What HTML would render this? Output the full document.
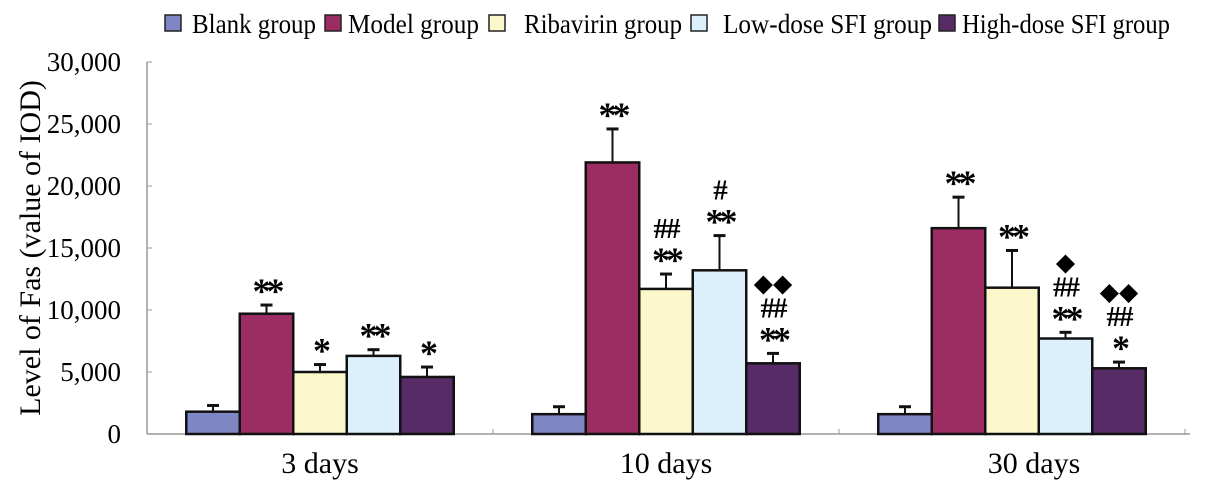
<!DOCTYPE html>
<html><head><meta charset="utf-8"><style>
body{margin:0;background:#fff;}
svg{display:block;font-family:"Liberation Serif",serif;}
</style></head><body>
<svg id="chart" width="1205" height="488"></svg>
<script>
const categories=["3 days","10 days","30 days"];
const groups=["Blank group","Model group","Ribavirin group","Low-dose SFI group","High-dose SFI group"];
const blankVals=[1800,1600,1600];
const modelVals=[9700,21900,16600];
const ribaVals=[5000,11700,11800];
const lowVals=[6300,13200,7700];
const highVals=[4600,5700,5300];
const blankErr=[500,600,600];
const modelErr=[700,2700,2500];
const ribaErr=[600,1200,3000];
const lowErr=[500,2800,500];
const highErr=[800,800,500];
const yTicks=[0,5000,10000,15000,20000,25000,30000];
const annots=[
 [[],["**"],["*"],["**"],["*"]],
 [[],["**"],["##","**"],["#","**"],["◆◆","##","**"]],
 [[],["**"],["**"],["◆","##","**"],["◆◆","##","*"]]
];
const colors=["#7f86c4","#9b2d62","#fdf7cc","#dcf0fb","#572b66"];
const series=[blankVals,modelVals,ribaVals,lowVals,highVals];
const errs=[blankErr,modelErr,ribaErr,lowErr,highErr];
const svg=document.getElementById('chart');
const NS="http://www.w3.org/2000/svg";
function mk(t,a,p){const e=document.createElementNS(NS,t);for(const k in a)e.setAttribute(k,a[k]);(p||svg).appendChild(e);return e;}
const x0=147,x1=1185,y0=434,yTop=62,yMax=30000;
function y(v){return y0-(v/yMax)*(y0-yTop);}
const catW=(x1-x0)/categories.length, barW=53.5;
function bx(c,s){return x0+catW*c+catW/2-barW*2.5+barW*s;}
const ya=mk('line',{x1:x0,y1:yTop,x2:x0,y2:y0,stroke:'#999','stroke-width':1.5});

const xa=mk('line',{x1:x0,y1:y0,x2:x1+5,y2:y0,stroke:'#999','stroke-width':1.5});

yTicks.forEach(v=>{
 mk('line',{x1:x0,y1:y(v),x2:x0+5,y2:y(v),stroke:'#999'});
 const t=mk('text',{x:121,y:y(v)+9,'text-anchor':'end','font-size':27});
 t.textContent=v.toLocaleString('en-US');
 
 
});
for(let c=0;c<=categories.length;c++){mk('line',{x1:x0+catW*c,y1:y0,x2:x0+catW*c,y2:y0-5,stroke:'#999'});}
const yt=mk('text',{x:0,y:0,transform:'translate(40,248) rotate(-90)','text-anchor':'middle','font-size':30});
yt.textContent="Level of Fas (value of IOD)";


categories.forEach((c,i)=>{
 const t=mk('text',{x:x0+catW*i+catW/2+(i==2?22:0),y:473,'text-anchor':'middle','font-size':30});
 t.textContent=c;
 
 
 series.forEach((s,j)=>{
  const xx=bx(i,j),top=y(s[i]),et=y(s[i]+errs[j][i]),cx=xx+barW/2;
  mk('line',{x1:cx,y1:top,x2:cx,y2:et,stroke:'#111','stroke-width':2});
  mk('line',{x1:cx-6,y1:et,x2:cx+6,y2:et,stroke:'#111','stroke-width':3});
  const r=mk('rect',{x:xx,y:top,width:barW,height:y0-top,fill:colors[j],stroke:'#111','stroke-width':2.5});
  
  
  const a=annots[i][j];
  a.forEach((txt,k)=>{
   const cy=et-21-(a.length-1-k)*25;
   const isStar=txt.includes('*');
   const isDia=txt.includes('◆');
   const attrs={x:cx,y:cy+(isStar?19:(isDia?9:10)),'text-anchor':'middle','font-size':isStar?36:(isDia?25:29),'font-family':isDia?'DejaVu Sans':'Liberation Serif'};
   if(isStar){attrs['font-weight']='bold';attrs['letter-spacing']='-4';}
   if(txt.includes('#')){attrs['font-weight']='bold';attrs['letter-spacing']='-2';}
   const at=mk('text',attrs);
   at.textContent=txt;
   
   
  });
 });
});
const lsw=[165,325,489,691,939];
const ltx=[192,348,524,723,962];
const lend=[316,479,682,932,1170];
groups.forEach((g,i)=>{
 const r=mk('rect',{x:lsw[i],y:15,width:16,height:16,fill:colors[i],stroke:'#222','stroke-width':1.5});
 
 
 const t=mk('text',{x:ltx[i],y:33,'font-size':27,textLength:lend[i]-ltx[i],lengthAdjust:'spacingAndGlyphs'});
 t.textContent=g;
 
 
});
</script>
</body></html>
